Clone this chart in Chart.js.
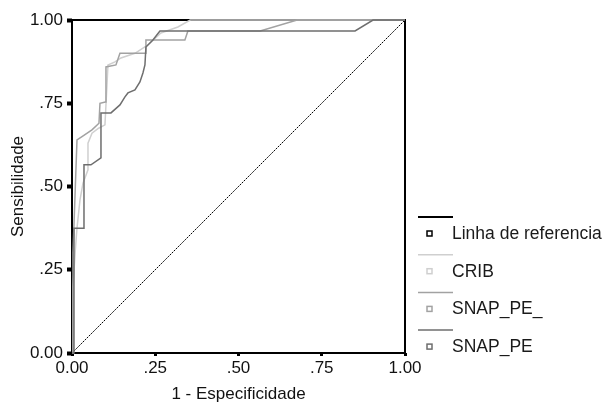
<!DOCTYPE html>
<html>
<head>
<meta charset="utf-8">
<script src="https://cdn.jsdelivr.net/npm/chart.js@4/dist/chart.umd.min.js"></script>
<style>
  html, body { margin: 0; padding: 0; background: #fff; }
  canvas { display: block; }
</style>
</head>
<body>
<canvas id="roc" width="603" height="405"></canvas>
<script>
// curve points (1 - specificity, sensitivity)
var refX = [0, 1];
var refY = [0, 1];

var cribX = [0, 0.003, 0.01, 0.015, 0.024, 0.033, 0.048, 0.048, 0.06, 0.08, 0.099, 0.108, 0.129, 0.147, 0.189, 0.228, 0.267, 0.318, 0.355, 1];
var cribY = [0, 0.20, 0.31, 0.375, 0.46, 0.51, 0.55, 0.63, 0.66, 0.675, 0.685, 0.865, 0.874, 0.886, 0.90, 0.925, 0.961, 0.979, 1, 1];

var snap2X = [0, 0.003, 0.01, 0.015, 0.03, 0.06, 0.081, 0.084, 0.10, 0.102, 0.132, 0.144, 0.222, 0.222, 0.339, 0.348, 0.565, 0.676, 1];
var snap2Y = [0, 0.30, 0.50, 0.64, 0.65, 0.67, 0.69, 0.75, 0.754, 0.859, 0.865, 0.90, 0.90, 0.94, 0.94, 0.967, 0.967, 1, 1];

var snapX = [0, 0.006, 0.006, 0.036, 0.036, 0.057, 0.087, 0.087, 0.117, 0.144, 0.159, 0.168, 0.189, 0.204, 0.213, 0.219, 0.222, 0.243, 0.264, 0.85, 0.904, 1];
var snapY = [0, 0, 0.375, 0.375, 0.565, 0.565, 0.586, 0.721, 0.721, 0.745, 0.769, 0.781, 0.790, 0.814, 0.841, 0.865, 0.919, 0.940, 0.967, 0.967, 1, 1];

var seriesNames = ['Linha de referencia', 'CRIB', 'SNAP_PE_', 'SNAP_PE'];
var seriesColors = ['#000000', '#cfcfcf', '#a2a2a2', '#6e6e6e'];
var tickLabels = ['0.00', '.25', '.50', '.75', '1.00'];

var FONT = '"Liberation Sans", Arial, Helvetica, sans-serif';

function pts(xs, ys) {
	return xs.map(function(x, i){ return {x: x, y: ys[i]}; });
}
function tickText(v) {
	var i = Math.round(v * 4);
	return tickLabels[i];
}

// black box round the plot, drawn under the curves
var framePlugin = {
	id: 'frame',
	beforeDatasetsDraw: function(chart){
		var a = chart.chartArea, c = chart.ctx;
		c.save();
		c.strokeStyle = '#000';
		c.lineWidth = 2;
		c.strokeRect(a.left, a.top, a.right - a.left, a.bottom - a.top);
		c.restore();
	}
};

// SPSS style legend: line on top, little hollow square + name under it
var legendPlugin = {
	id: 'spssLegend',
	afterDraw: function(chart){
		var c = chart.ctx;
		var x0 = 418, y0 = 217, gap = 37.7;
		c.save();
		c.font = '17.5px ' + FONT;
		c.textBaseline = 'middle';
		seriesNames.forEach(function(name, i){
			var y = y0 + i * gap;
			c.strokeStyle = seriesColors[i];
			c.lineWidth = i === 0 ? 2 : 1.5;
			c.beginPath();
			c.moveTo(x0, y);
			c.lineTo(x0 + 35, y);
			c.stroke();
			c.lineWidth = 1.5;
			c.strokeRect(x0 + 9, y + 14, 5, 5);
			c.fillStyle = '#1a1a1a';
			c.fillText(name, x0 + 34, y + 17);
		});
		c.restore();
	}
};

var ctx = document.getElementById('roc');
var chart = new Chart(ctx, {
	type: 'line',
	data: {
		datasets: [
			{ label: seriesNames[3], data: pts(snapX, snapY), borderColor: seriesColors[3], borderWidth: 1.5 },
			{ label: seriesNames[2], data: pts(snap2X, snap2Y), borderColor: seriesColors[2], borderWidth: 1.5 },
			{ label: seriesNames[1], data: pts(cribX, cribY), borderColor: seriesColors[1], borderWidth: 1.5 },
			{ label: seriesNames[0], data: pts(refX, refY), borderColor: seriesColors[0], borderWidth: 1, borderDash: [2, 1] }
		]
	},
	options: {
		responsive: false,
		animation: false,
		events: [],
		elements: {
			point: { radius: 0 },
			line: { tension: 0, fill: false }
		},
		datasets: { line: { clip: 4 } },
		layout: { padding: { left: 8, right: 198, top: 20, bottom: 0 } },
		plugins: {
			legend: { display: false },
			tooltip: { enabled: false }
		},
		scales: {
			x: {
				type: 'linear', min: 0, max: 1,
				afterFit: function(s){ s.height = 52; },
				border: { display: false },
				grid: { drawOnChartArea: false, drawTicks: true, tickLength: 3, tickWidth: 3, color: '#000' },
				ticks: { stepSize: 0.25, padding: 2, color: '#111', font: { family: FONT, size: 17 }, maxRotation: 0, callback: tickText },
				title: { display: true, text: '1 - Especificidade', color: '#111', font: { family: FONT, size: 17 }, padding: { top: 2, bottom: 0 } }
			},
			y: {
				type: 'linear', min: 0, max: 1,
				afterFit: function(s){ s.width = 64; },
				border: { display: false },
				grid: { drawOnChartArea: false, drawTicks: true, tickLength: 5, tickWidth: 4, color: '#000' },
				ticks: { stepSize: 0.25, padding: 4, color: '#111', font: { family: FONT, size: 17 }, callback: tickText },
				title: { display: true, text: 'Sensibilidade', color: '#111', font: { family: FONT, size: 17 }, padding: { top: 0, bottom: 2 } }
			}
		}
	},
	plugins: [framePlugin, legendPlugin]
});
</script>
</body>
</html>
